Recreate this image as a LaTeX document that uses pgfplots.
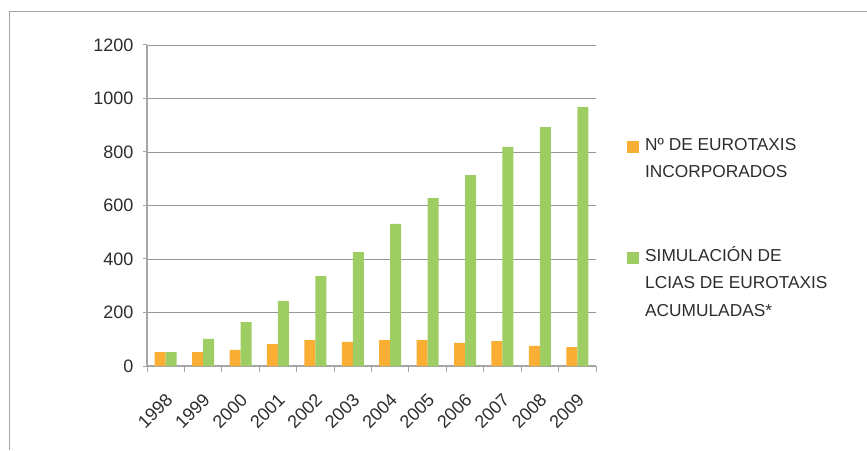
\documentclass[border=0pt]{standalone}
\usepackage{pgfplots}
\pgfplotsset{compat=1.18}
\usepackage{fontspec}
\setmainfont{Liberation Sans}
\definecolor{barorange}{RGB}{250,174,52}
\definecolor{bargreen}{RGB}{158,205,100}
\definecolor{axisgray}{RGB}{165,165,165}
\definecolor{gridgray}{RGB}{150,150,150}
\definecolor{txt}{RGB}{45,45,45}
\begin{document}
\begin{tikzpicture}
\useasboundingbox (0,0) rectangle (867pt,450pt);
\draw[axisgray, line width=1pt] (9pt,0pt) -- (9pt,438pt) -- (867pt,438pt);
\begin{axis}[
 at={(147pt,84pt)}, anchor=south west,
 scale only axis, width=449pt, height=321pt,
 ybar=0pt, bar width=11pt,
 xmin=-0.5, xmax=11.5, ymin=0, ymax=1200,
 ytick={0,200,...,1200},
 xtick={0,...,11},
 xticklabels={1998,1999,2000,2001,2002,2003,2004,2005,2006,2007,2008,2009},
 minor xtick={-0.5,0.5,...,11.5},
 axis lines*=left,
 ymajorgrids, grid style={gridgray, line width=0.9pt},
 axis line style={axisgray, line width=1.2pt},
 tick align=outside,
 major tick length=4pt, minor tick length=6pt,
 major x tick style={draw=none},
 ytick style={axisgray, line width=1pt},
 minor tick style={axisgray, line width=1pt},
 /pgf/number format/assume math mode=true,
 /pgf/number format/1000 sep={},
 tick label style={font=\fontsize{18}{21}\selectfont, text=txt},
 yticklabel style={xshift=-6pt},
 xticklabel style={yshift=-21pt, xshift=-1pt, rotate=45, anchor=north east, inner sep=1pt},
 legend cell align=left,
 legend style={draw=none, fill=none, at={(1.069,0.71)}, anchor=north west,
   inner sep=0pt, column sep=6pt, row sep=67pt,
   nodes={inner sep=0pt, align=left, font=\fontsize{17.3}{27.5}\selectfont, text=txt}},
]
\addplot[fill=barorange, draw=none,
  legend image code/.code={\fill[barorange] (0pt,6pt) rectangle (12pt,18pt);}]
  coordinates {(0,52) (1,52) (2,60) (3,82) (4,97) (5,90) (6,97) (7,97) (8,86) (9,93) (10,75) (11,71)};
\addlegendentry{Nº DE EUROTAXIS\\INCORPORADOS}
\addplot[fill=bargreen, draw=none,
  legend image code/.code={\fill[bargreen] (0pt,18pt) rectangle (12pt,30pt);}]
  coordinates {(0,52) (1,101) (2,164) (3,243) (4,336) (5,426) (6,531) (7,628) (8,714) (9,819) (10,893) (11,968)};
\addlegendentry{SIMULACIÓN DE\\LCIAS DE EUROTAXIS\\ACUMULADAS*}
\end{axis}
\end{tikzpicture}
\end{document}
